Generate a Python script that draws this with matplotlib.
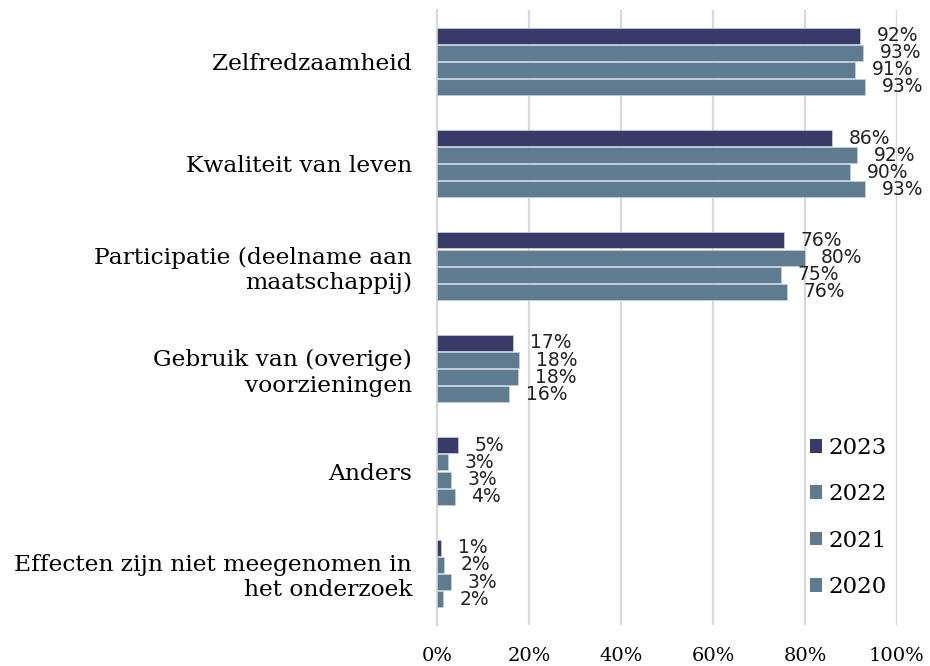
import numpy as np
import matplotlib
matplotlib.use("Agg")
import matplotlib.pyplot as plt
from matplotlib.patches import Patch

# ── Data ───────────────────────────────────────────────────
categories = [
    "Zelfredzaamheid",
    "Kwaliteit van leven",
    "Participatie (deelname aan\nmaatschappij)",
    "Gebruik van (overige)\nvoorzieningen",
    "Anders",
    "Effecten zijn niet meegenomen in\nhet onderzoek",
]
years = ["2023", "2022", "2021", "2020"]

# bar lengths (percent)
v2023 = [92.0, 85.8, 75.4, 16.5, 4.5, 0.9]
v2022 = [92.6, 91.4, 79.9, 17.9, 2.3, 1.5]
v2021 = [90.9, 89.8, 74.8, 17.7, 3.0, 3.0]
v2020 = [93.0, 93.0, 76.1, 15.6, 3.8, 1.3]

# printed data labels
lab2023 = [92, 86, 76, 17, 5, 1]
lab2022 = [93, 92, 80, 18, 3, 2]
lab2021 = [91, 90, 75, 18, 3, 3]
lab2020 = [93, 93, 76, 16, 4, 2]

series = [v2023, v2022, v2021, v2020]
labels = [lab2023, lab2022, lab2021, lab2020]
colors = ["#383a68", "#5f7b90", "#5f7b90", "#5f7b90"]

# ── Plot ───────────────────────────────────────────────────
fig = plt.figure(figsize=(9.3, 6.66), dpi=100)
ax = fig.add_axes([0.47, 0.062, 0.4945, 0.923])

pitch = 0.167
height = 0.156
y = np.arange(len(categories))
for k, (vals, labs, col) in enumerate(zip(series, labels, colors)):
    pos = y + (k - 1.5) * pitch
    ax.barh(pos, vals, height=height, color=col, edgecolor="#c9d3dc",
            linewidth=0.5, zorder=3)
    for p, v, l in zip(pos, vals, labs):
        ax.annotate(f"{l}%", (v, p), xytext=(12, 0), textcoords="offset points",
                    ha="left", va="center", fontsize=13.5, color="#222222",
                    family="DejaVu Sans", zorder=4)

ax.set_ylim(len(categories) - 0.5, -0.5)
ax.set_xlim(0, 100)
ax.set_xticks(np.arange(0, 101, 20))
ax.set_xticklabels([f"{t}%" for t in range(0, 101, 20)],
                   family="DejaVu Serif", fontsize=14)
ax.set_yticks(y)
ax.set_yticklabels(categories, family="DejaVu Serif", fontsize=16.8,
                   linespacing=1.2)
ax.tick_params(axis="both", length=0)
ax.tick_params(axis="y", pad=18)
ax.tick_params(axis="x", pad=16)
ax.xaxis.grid(True, color="#d9d9d9", linewidth=1.6, zorder=0)
for s in ["top", "right", "bottom"]:
    ax.spines[s].set_visible(False)
ax.spines["left"].set_color("#d9d9d9")
ax.spines["left"].set_linewidth(1.6)

handles = [Patch(facecolor=c, edgecolor="none") for c in colors]
leg = ax.legend(handles, years, loc="lower right",
                bbox_to_anchor=(1.022, 0.01), frameon=False,
                prop={"family": "DejaVu Serif", "size": 16.5},
                handlelength=0.55, handleheight=0.55, handletextpad=0.25,
                labelspacing=1.06)

fig.savefig("out.png", dpi=100)
